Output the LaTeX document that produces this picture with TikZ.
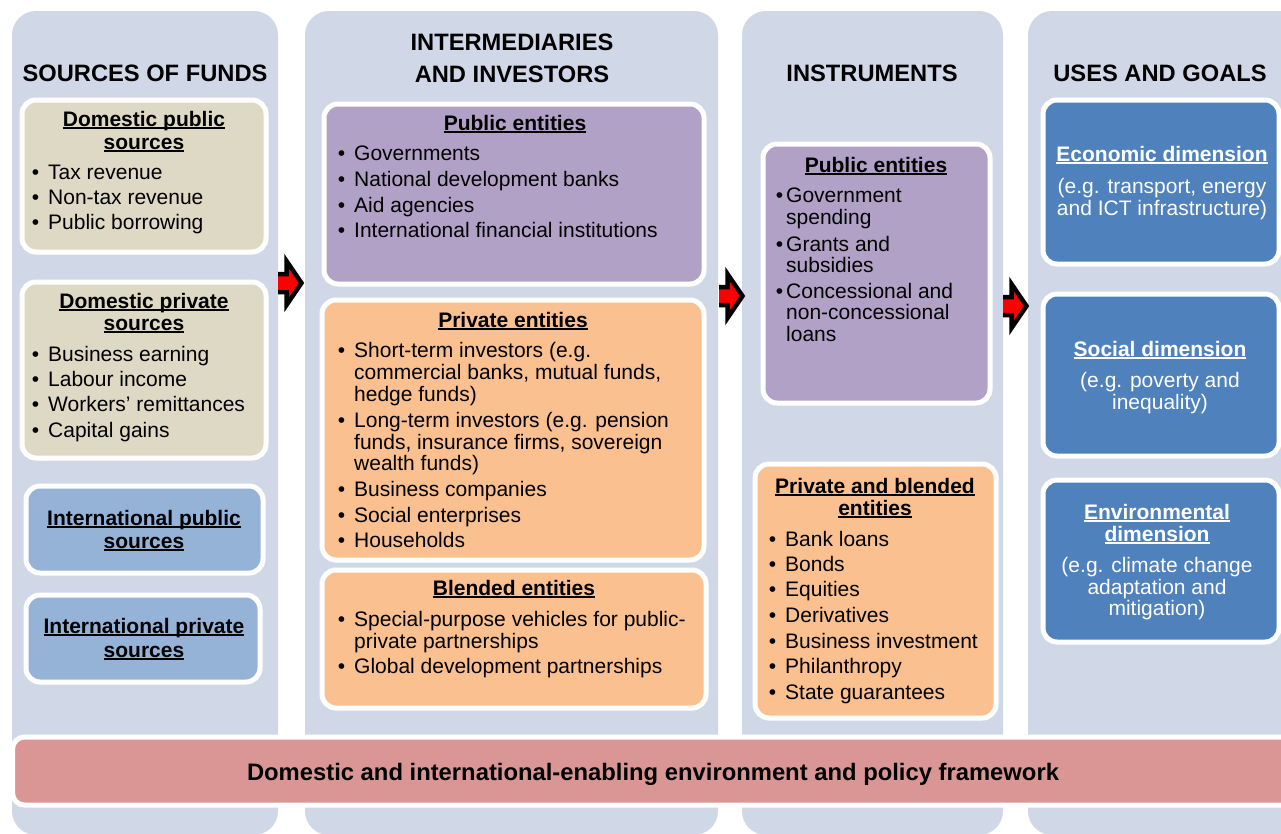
\documentclass[tikz,border=0pt]{standalone}
\usepackage{fontspec}
\setmainfont{Liberation Sans}
\usetikzlibrary{calc}

\definecolor{colbg}{RGB}{208,216,232}
\definecolor{beige}{RGB}{221,217,196}
\definecolor{lilac}{RGB}{178,161,199}
\definecolor{peach}{RGB}{250,192,144}
\definecolor{skyblue}{RGB}{149,179,215}
\definecolor{deepblue}{RGB}{79,129,189}
\definecolor{rosebar}{RGB}{217,150,148}
\definecolor{arrowred}{RGB}{255,0,0}

\newsavebox\ulbox
\newcommand\ul[1]{\sbox\ulbox{#1}\rlap{\rule[-2.6pt]{\wd\ulbox}{1.4pt}}\usebox\ulbox}
\newcommand\bodyfont{\fontsize{21}{25}\selectfont}
\newcommand\titlefont{\fontsize{23.7}{30}\selectfont\bfseries}
% bullet placed to the left of the item text, #1 = gap
\newcommand\bu[1]{\llap{\textbullet\hspace{#1}}}

\tikzset{
  column/.style={fill=colbg, draw=none, rounded corners=24pt, inner sep=0pt},
  card/.style={draw=white, line width=5pt, rounded corners=14pt, inner sep=0pt},
  ttl/.style={anchor=base, inner sep=0pt, font=\titlefont},
  head/.style={anchor=base, inner sep=0pt, font=\bodyfont\bfseries},
  line/.style={anchor=base west, inner sep=0pt, font=\bodyfont},
  cline/.style={anchor=base, inner sep=0pt, font=\bodyfont},
}

% block arrow: left end at (#1,#2) centre line, red body with black rim
\newcommand\blockarrow[2]{%
  \fill[arrowred] (#1,#2-9) -- (#1+8.5,#2-9) -- (#1+8.5,#2-22) -- (#1+23.5,#2)
     -- (#1+8.5,#2+22) -- (#1+8.5,#2+9) -- (#1,#2+9) -- cycle;
  \draw[black, line width=4.5pt, line join=miter]
     (#1,#2-9) -- (#1+8.5,#2-9) -- (#1+8.5,#2-22) -- (#1+23.5,#2)
     -- (#1+8.5,#2+22) -- (#1+8.5,#2+9) -- (#1,#2+9);
}

\begin{document}
\begin{tikzpicture}[x=1pt,y=-1pt]
\useasboundingbox (0,0) rectangle (1281,833);
\fill[white] (0,0) rectangle (1281,833);

\begin{scope}
\clip (0,0) rectangle (1281,833);
% column backgrounds
\node[column, minimum width=266pt, minimum height=824pt] (c1) at (145,423) {};
\node[column, minimum width=413pt, minimum height=824pt] (c2) at (511.5,423) {};
\node[column, minimum width=261pt, minimum height=824pt] (c3) at (872.5,423) {};
\node[column, minimum width=290pt, minimum height=824pt] (c4) at (1173,423) {};

% column titles
\node[ttl] (t1) at (145,81) {SOURCES OF FUNDS};
\node[ttl] (t2a) at (512,50.5) {INTERMEDIARIES};
\node[ttl] (t2b) at (512,82.5) {AND INVESTORS};
\node[ttl] (t3) at (872,81) {INSTRUMENTS};
\node[ttl] (t4) at (1160,81) {USES AND GOALS};

% ---- sources of funds
\node[card, fill=beige, minimum width=244pt, minimum height=152pt] (dpub) at (144,176) {};
\node[head] (dpubh1) at (144,126) {\ul{Domestic public}};
\node[head] (dpubh2) at (144,149) {\ul{sources}};
\node[line] (dpub1) at (48,179) {\bu{9pt}Tax revenue};
\node[line] (dpub2) at (48,204) {\bu{9pt}Non-tax revenue};
\node[line] (dpub3) at (48,229) {\bu{9pt}Public borrowing};

\node[card, fill=beige, minimum width=244pt, minimum height=176pt] (dpriv) at (144,370) {};
\node[head] (dprivh1) at (144,308) {\ul{Domestic private}};
\node[head] (dprivh2) at (144,330) {\ul{sources}};
\node[line] (dpriv1) at (48,361) {\bu{9pt}Business earning};
\node[line] (dpriv2) at (48,386) {\bu{9pt}Labour income};
\node[line] (dpriv3) at (48,411) {\bu{9pt}Workers’ remittances};
\node[line] (dpriv4) at (48,437) {\bu{9pt}Capital gains};

\node[card, fill=skyblue, minimum width=237pt, minimum height=87pt] (ipub) at (144.5,529.5) {};
\node[head] (ipubh1) at (144,525) {\ul{International public}};
\node[head] (ipubh2) at (144,548) {\ul{sources}};

\node[card, fill=skyblue, minimum width=234pt, minimum height=87pt] (ipriv) at (143,638.5) {};
\node[head] (iprivh1) at (144,633) {\ul{International private}};
\node[head] (iprivh2) at (144,657) {\ul{sources}};

% ---- intermediaries and investors
\node[card, fill=lilac, minimum width=380pt, minimum height=180pt] (mpub) at (514,194) {};
\node[head] (mpubh) at (515,130) {\ul{Public entities}};
\node[line] (mpub1) at (354,160) {\bu{9pt}Governments};
\node[line] (mpub2) at (354,186) {\bu{9pt}National development banks};
\node[line] (mpub3) at (354,212) {\bu{9pt}Aid agencies};
\node[line] (mpub4) at (354,237) {\bu{9pt}International financial institutions};

\node[card, fill=peach, minimum width=382pt, minimum height=260pt] (mpriv) at (513,430) {};
\node[head] (mprivh) at (513,327) {\ul{Private entities}};
\node[line] (mpriv1a) at (354,357) {\bu{9pt}Short-term investors (e.g.};
\node[line] (mpriv1b) at (354,379) {commercial banks, mutual funds,};
\node[line] (mpriv1c) at (354,401) {hedge funds)};
\node[line] (mpriv2a) at (354,427) {\bu{9pt}Long-term investors (e.g. pension};
\node[line] (mpriv2b) at (354,449) {funds, insurance firms, sovereign};
\node[line] (mpriv2c) at (354,470) {wealth funds)};
\node[line] (mpriv3) at (354,496) {\bu{9pt}Business companies};
\node[line] (mpriv4) at (354,522) {\bu{9pt}Social enterprises};
\node[line] (mpriv5) at (354,547) {\bu{9pt}Households};

\node[card, fill=peach, minimum width=384pt, minimum height=138pt] (mbl) at (514,639) {};
\node[head] (mblh) at (514,595) {\ul{Blended entities}};
\node[line] (mbl1a) at (354,626) {\bu{9pt}Special-purpose vehicles for public-};
\node[line] (mbl1b) at (354,648) {private partnerships};
\node[line] (mbl2) at (354,673) {\bu{9pt}Global development partnerships};

% ---- instruments
\node[card, fill=lilac, minimum width=227pt, minimum height=259pt] (ipe) at (876.5,273.5) {};
\node[head] (ipeh) at (876,172) {\ul{Public entities}};
\node[line] (ipe1a) at (786,202) {\bu{3pt}Government};
\node[line] (ipe1b) at (786,224) {spending};
\node[line] (ipe2a) at (786,251) {\bu{3pt}Grants and};
\node[line] (ipe2b) at (786,272) {subsidies};
\node[line] (ipe3a) at (786,298) {\bu{3pt}Concessional and};
\node[line] (ipe3b) at (786,319) {non-concessional};
\node[line] (ipe3c) at (786,341) {loans};

\node[card, fill=peach, minimum width=241pt, minimum height=254pt] (ipb) at (875.5,591) {};
\node[head] (ipbh1) at (875,493) {\ul{Private and blended}};
\node[head] (ipbh2) at (875,515) {\ul{entities}};
\node[line] (ipb1) at (785,546) {\bu{9pt}Bank loans};
\node[line] (ipb2) at (785,571) {\bu{9pt}Bonds};
\node[line] (ipb3) at (785,596) {\bu{9pt}Equities};
\node[line] (ipb4) at (785,622) {\bu{9pt}Derivatives};
\node[line] (ipb5) at (785,648) {\bu{9pt}Business investment};
\node[line] (ipb6) at (785,673) {\bu{9pt}Philanthropy};
\node[line] (ipb7) at (785,699) {\bu{9pt}State guarantees};

% ---- uses and goals
\begin{scope}[every node/.append style={text=white}]
\node[card, fill=deepblue, minimum width=236pt, minimum height=164pt] (eco) at (1161,182) {};
\node[head] (ecoh) at (1162,161) {\ul{Economic dimension}};
\node[cline] (eco1) at (1162,193) {(e.g. transport, energy};
\node[cline] (eco2) at (1162,215) {and ICT infrastructure)};

\node[card, fill=deepblue, minimum width=236pt, minimum height=162pt] (soc) at (1161,375) {};
\node[head] (soch) at (1160,356) {\ul{Social dimension}};
\node[cline] (soc1) at (1160,387) {(e.g. poverty and};
\node[cline] (soc2) at (1160,409) {inequality)};

\node[card, fill=deepblue, minimum width=236pt, minimum height=162pt] (env) at (1161,561) {};
\node[head] (envh1) at (1157,519) {\ul{Environmental}};
\node[head] (envh2) at (1157,541) {\ul{dimension}};
\node[cline] (env1) at (1157,572) {(e.g. climate change};
\node[cline] (env2) at (1157,594) {adaptation and};
\node[cline] (env3) at (1157,615) {mitigation)};
\end{scope}

% ---- enabling environment bar
\node[card, fill=rosebar, rounded corners=12pt, minimum width=1285pt, minimum height=68pt] (bar) at (655,771) {};
\node[head, font=\fontsize{23.8}{28}\selectfont\bfseries] (barh) at (653,780) {Domestic and international-enabling environment and policy framework};

% ---- flow arrows between columns
\blockarrow{278}{283}
\blockarrow{719}{296}
\blockarrow{1003}{306}
\end{scope}
\end{tikzpicture}
\end{document}
